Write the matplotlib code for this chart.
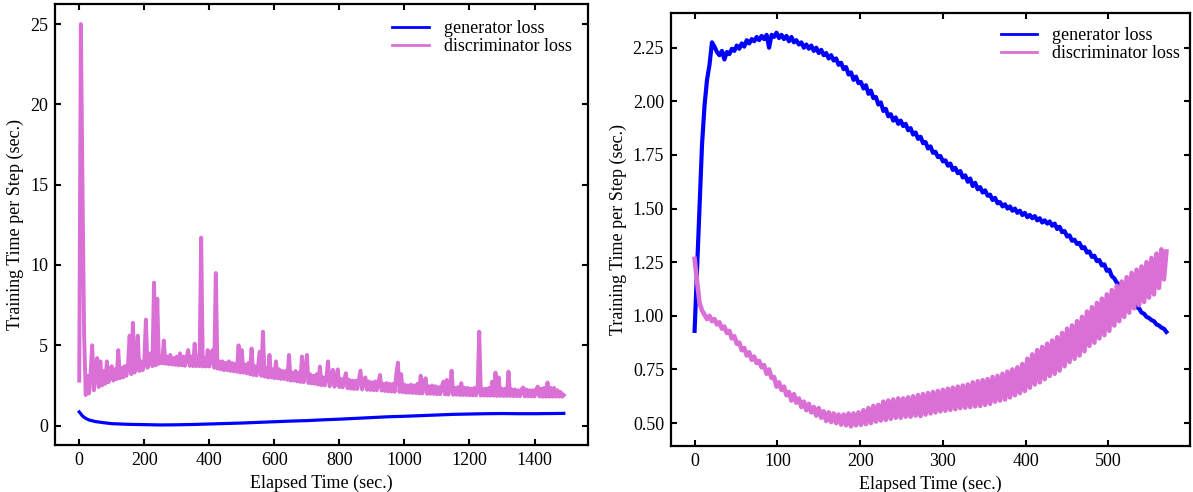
import numpy as np
import matplotlib
matplotlib.use("Agg")
import matplotlib.pyplot as plt

plt.rcParams['font.family'] = ['Liberation Serif', 'DejaVu Serif']
plt.rcParams['font.size'] = 13

# ---------------- Left panel data (long run) ----------------
left_step = 5.0  # sec between samples
left_disc = [
    2.8, 25.0, 15.0, 5.7, 1.9, 3.1, 2.0, 3.3, 5.0, 2.2,
    3.3, 4.2, 2.4, 4.0, 2.5, 3.4, 2.6, 4.0, 2.7, 3.5,
    3.7, 2.8, 3.5, 2.9, 4.7, 2.95, 3.6, 3.0, 3.7, 3.1,
    3.8, 5.6, 3.2, 6.4, 3.3, 3.9, 5.6, 3.4, 4.0, 3.45,
    4.0, 6.6, 3.6, 4.1, 4.5, 3.7, 8.9, 3.75, 7.9, 3.85,
    4.3, 3.88, 5.3, 3.85, 4.3, 3.82, 4.4, 3.8, 4.2, 3.78,
    4.3, 3.75, 4.5, 3.75, 4.3, 3.72, 4.2, 4.7, 3.72, 4.3,
    3.7, 5.1, 3.7, 4.3, 3.7, 11.7, 3.68, 4.2, 3.68, 4.7,
    3.68, 4.3, 4.7, 3.6, 9.5, 3.55, 4.0, 3.5, 4.0, 3.45,
    3.9, 3.45, 4.0, 3.4, 3.9, 3.38, 3.85, 3.35, 5.0, 3.3,
    4.7, 3.3, 3.8, 3.25, 3.9, 3.2, 4.8, 3.15, 3.7, 3.12,
    3.7, 4.6, 3.1, 5.85, 3.05, 3.6, 3.0, 4.4, 3.0, 3.5,
    2.95, 4.0, 2.95, 3.5, 2.9, 3.4, 2.9, 3.4, 2.85, 4.4,
    2.8, 3.3, 2.8, 3.4, 2.75, 3.3, 2.72, 4.3, 2.7, 3.2,
    4.4, 2.65, 3.2, 2.62, 3.1, 2.6, 3.2, 2.55, 3.67, 2.52,
    3.0, 2.5, 2.95, 4.0, 2.45, 3.0, 3.47, 2.42, 3.0, 3.5,
    2.4, 2.9, 2.38, 2.9, 3.26, 2.33, 2.85, 2.3, 2.8, 2.28,
    2.8, 2.28, 2.85, 3.42, 2.25, 2.8, 3.0, 2.23, 2.75, 2.22,
    2.7, 2.2, 2.75, 2.2, 2.7, 3.15, 2.18, 2.6, 2.15, 2.65,
    2.13, 2.6, 2.12, 2.6, 2.1, 3.2, 3.92, 2.1, 3.2, 2.08,
    2.55, 2.05, 2.5, 2.05, 2.55, 2.03, 2.5, 2.02, 2.6, 2.0,
    3.11, 2.0, 2.5, 2.95, 1.98, 2.45, 1.98, 2.5, 1.97, 2.45,
    1.95, 2.4, 1.95, 2.45, 2.74, 1.94, 2.84, 1.93, 2.4, 3.42,
    1.92, 2.35, 1.92, 2.4, 1.9, 2.64, 1.9, 2.35, 1.9, 2.35,
    1.88, 2.3, 1.88, 2.35, 1.88, 2.2, 5.85, 1.87, 2.3, 1.87,
    2.3, 1.86, 2.35, 1.86, 2.74, 1.86, 3.3, 1.85, 3.0, 1.85,
    2.3, 1.84, 2.3, 1.84, 3.36, 1.84, 2.25, 1.83, 2.25, 1.83,
    2.2, 1.82, 2.25, 2.37, 1.82, 2.25, 1.82, 2.2, 1.81, 2.2,
    1.81, 2.25, 2.43, 1.81, 2.3, 1.8, 2.35, 1.8, 2.68, 1.8,
    2.35, 1.8, 2.35, 1.8, 2.2, 1.8, 2.1, 1.8, 1.9,
]
left_gen_t = [0, 10, 20, 30, 50, 75, 100, 150, 200, 250, 300, 350, 400, 450,
              500, 550, 600, 650, 700, 750, 800, 850, 900, 950, 1000, 1050,
              1100, 1150, 1200, 1250, 1300, 1350, 1400, 1450, 1490]
left_gen = [0.85, 0.6, 0.45, 0.35, 0.25, 0.18, 0.12, 0.08, 0.06, 0.04, 0.05,
            0.07, 0.1, 0.13, 0.16, 0.2, 0.24, 0.28, 0.31, 0.36, 0.4, 0.45,
            0.5, 0.55, 0.58, 0.62, 0.66, 0.7, 0.72, 0.74, 0.75, 0.74, 0.74,
            0.75, 0.76]

# ---------------- Right panel data (short run) ----------------
right_step = 3.0
right_gen = [
    0.93, 1.22, 1.52, 1.80, 1.98, 2.10, 2.17, 2.275, 2.255, 2.23,
    2.215, 2.235, 2.195, 2.23, 2.22, 2.245, 2.235, 2.26, 2.245, 2.27,
    2.255, 2.285, 2.27, 2.29, 2.28, 2.3, 2.285, 2.305, 2.29, 2.31,
    2.25, 2.31, 2.3, 2.32, 2.295, 2.31, 2.29, 2.305, 2.28, 2.3,
    2.275, 2.285, 2.265, 2.275, 2.25, 2.265, 2.245, 2.26, 2.235, 2.25,
    2.225, 2.24, 2.215, 2.225, 2.2, 2.215, 2.19, 2.2, 2.17, 2.18,
    2.15, 2.16, 2.125, 2.135, 2.1, 2.115, 2.085, 2.09, 2.06, 2.075,
    2.035, 2.05, 2.015, 2.02, 1.985, 1.995, 1.955, 1.965, 1.93, 1.94,
    1.91, 1.925, 1.895, 1.91, 1.885, 1.895, 1.865, 1.875, 1.845, 1.855,
    1.825, 1.835, 1.805, 1.81, 1.78, 1.79, 1.76, 1.765, 1.74, 1.745,
    1.72, 1.725, 1.7, 1.71, 1.68, 1.69, 1.665, 1.675, 1.645, 1.655,
    1.625, 1.64, 1.605, 1.62, 1.59, 1.6, 1.575, 1.585, 1.56, 1.565,
    1.54, 1.55, 1.525, 1.53, 1.51, 1.52, 1.5, 1.51, 1.49, 1.5,
    1.48, 1.49, 1.47, 1.48, 1.46, 1.47, 1.455, 1.465, 1.445, 1.455,
    1.435, 1.445, 1.43, 1.44, 1.42, 1.43, 1.405, 1.415, 1.39, 1.395,
    1.37, 1.375, 1.35, 1.355, 1.335, 1.34, 1.315, 1.32, 1.295, 1.3,
    1.275, 1.28, 1.255, 1.26, 1.235, 1.24, 1.21, 1.215, 1.185, 1.175,
    1.155, 1.145, 1.12, 1.11, 1.09, 1.085, 1.065, 1.06, 1.04, 1.035,
    1.015, 1.01, 0.995, 0.99, 0.98, 0.975, 0.96, 0.955, 0.945, 0.94,
    0.925,
]
right_disc = [
    1.266, 1.16, 1.06, 1.025, 1.005, 0.985, 1.0, 0.975, 0.985, 0.96,
    0.97, 0.94, 0.95, 0.92, 0.93, 0.895, 0.905, 0.87, 0.875, 0.84,
    0.85, 0.815, 0.83, 0.795, 0.81, 0.78, 0.79, 0.76, 0.77, 0.73,
    0.75, 0.71, 0.715, 0.67, 0.69, 0.655, 0.67, 0.63, 0.645, 0.605,
    0.635, 0.595, 0.615, 0.575, 0.6, 0.56, 0.59, 0.55, 0.575, 0.535,
    0.57, 0.525, 0.555, 0.51, 0.55, 0.505, 0.545, 0.5, 0.54, 0.493,
    0.54, 0.49, 0.545, 0.485, 0.545, 0.49, 0.55, 0.492, 0.56, 0.495,
    0.57, 0.5, 0.58, 0.507, 0.585, 0.512, 0.6, 0.515, 0.605, 0.52,
    0.61, 0.525, 0.615, 0.525, 0.615, 0.53, 0.62, 0.53, 0.625, 0.535,
    0.63, 0.533, 0.635, 0.54, 0.64, 0.545, 0.645, 0.55, 0.65, 0.555,
    0.655, 0.558, 0.66, 0.562, 0.665, 0.565, 0.67, 0.57, 0.675, 0.572,
    0.68, 0.575, 0.69, 0.578, 0.695, 0.58, 0.7, 0.585, 0.705, 0.59,
    0.715, 0.6, 0.72, 0.605, 0.73, 0.61, 0.74, 0.62, 0.75, 0.63,
    0.76, 0.64, 0.775, 0.65, 0.8, 0.665, 0.82, 0.68, 0.84, 0.69,
    0.855, 0.705, 0.87, 0.72, 0.885, 0.73, 0.9, 0.745, 0.92, 0.765,
    0.94, 0.785, 0.955, 0.8, 0.975, 0.815, 0.995, 0.835, 1.02, 0.86,
    1.04, 0.875, 1.06, 0.895, 1.08, 0.91, 1.1, 0.93, 1.12, 0.955,
    1.14, 0.975, 1.16, 0.995, 1.18, 1.015, 1.2, 1.035, 1.215, 1.05,
    1.23, 1.065, 1.25, 1.085, 1.27, 1.1, 1.29, 1.13, 1.31, 1.17,
    1.3,
]

left_xticks = [0, 200, 400, 600, 800, 1000, 1200, 1400]
left_yticks = [0, 5, 10, 15, 20, 25]
right_xticks = [0, 100, 200, 300, 400, 500]
right_yticks = [0.50, 0.75, 1.00, 1.25, 1.50, 1.75, 2.00, 2.25]

GEN_COLOR = '#0000ff'
DISC_COLOR = '#da70d6'

fig = plt.figure(figsize=(11.93, 4.92), dpi=100)
axL = fig.add_axes([55 / 1193, 47 / 492, 533 / 1193, 441 / 492])
axR = fig.add_axes([671 / 1193, 46 / 492, 519 / 1193, 433 / 492])

def style(ax, anchor):
    for s in ax.spines.values():
        s.set_linewidth(1.6)
    ax.tick_params(direction='in', top=True, right=True, length=4.5,
                   width=1.5, labelsize=13, pad=5)
    ax.set_xlabel('Elapsed Time (sec.)', fontsize=13)
    ax.set_ylabel('Training Time per Step (sec.)', fontsize=13)
    leg = ax.legend(loc='upper right', bbox_to_anchor=anchor, frameon=False,
                    fontsize=13, handlelength=2.0, handletextpad=0.85,
                    labelspacing=0.05)
    for h in leg.get_lines():
        h.set_linewidth(2.0)

lt = np.arange(len(left_disc)) * left_step
axL.plot(left_gen_t, left_gen, color=GEN_COLOR, lw=2.3, label='generator loss')
axL.plot(lt, left_disc, color=DISC_COLOR, lw=2.8, label='discriminator loss')
axL.set_xticks(left_xticks)
axL.set_yticks(left_yticks)
style(axL, (1.0, 1.0))

rt = np.arange(len(right_gen)) * right_step
rdt = np.arange(len(right_disc)) * right_step
axR.plot(rt, right_gen, color=GEN_COLOR, lw=3.0, label='generator loss')
axR.plot(rdt, right_disc, color=DISC_COLOR, lw=3.3, label='discriminator loss')
axR.set_xticks(right_xticks)
axR.set_yticks(right_yticks)
axR.set_yticklabels([f'{v:.2f}' for v in right_yticks])
style(axR, (1.012, 1.005))

fig.savefig('out.png', dpi=100)
